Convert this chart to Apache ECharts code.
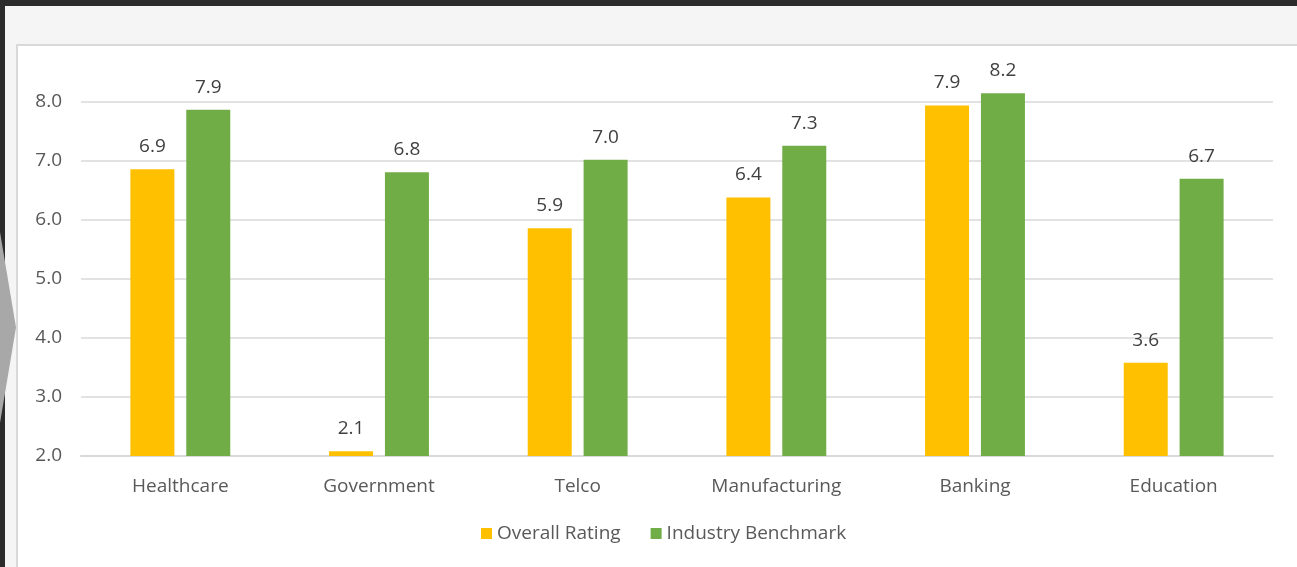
<!DOCTYPE html>
<html>
<head>
<meta charset="utf-8">
<script src="https://cdn.jsdelivr.net/npm/echarts@6/dist/echarts.min.js"></script>
<style>
html,body{margin:0;padding:0;background:#2b2b2b;width:1297px;height:567px;overflow:hidden;}
#panel{position:absolute;left:5px;top:6px;width:1292px;height:561px;background:#f5f5f5;}
#card{position:absolute;left:16px;top:44px;width:1300px;height:600px;background:#fff;border:2px solid #d9d9d9;box-sizing:border-box;}
#arrow{position:absolute;left:0;top:232px;width:16px;height:191px;background:#a8a8a8;clip-path:polygon(0 0,100% 50%,0 100%);}
#chart{position:absolute;left:0;top:0;width:1297px;height:567px;}
</style>
</head>
<body>
<div id="panel"></div>
<div id="card"></div>
<div id="arrow"></div>
<div id="chart"></div>
<script>
const categories = ['Healthcare','Government','Telco','Manufacturing','Banking','Education'];
const overallRating = [6.86, 2.08, 5.86, 6.38, 7.94, 3.58];
const industryBenchmark = [7.87, 6.81, 7.02, 7.26, 8.15, 6.70];
const seriesNames = ['Overall Rating','Industry Benchmark'];

const chart = echarts.init(document.getElementById('chart'));
const font = '"Open Sans", "Noto Sans", sans-serif';
const fs = 19;
chart.setOption({
  animation:false,
  textStyle:{fontFamily:font},
  grid:{left:81,right:24,top:66.6,bottom:111,containLabel:false},
  legend:{
    data:seriesNames, left:476, top:519, itemWidth:11, itemHeight:11, itemGap:30,
    icon:'rect',
    textStyle:{fontFamily:font,fontSize:fs,color:'#595959'}
  },
  xAxis:{
    type:'category', data:categories,
    axisLine:{lineStyle:{color:'#d9d9d9',width:2}},
    axisTick:{show:false},
    axisLabel:{fontFamily:font,fontSize:fs,color:'#595959',margin:21}
  },
  yAxis:{
    type:'value', min:2, max:8.6, interval:1,
    axisLine:{show:false}, axisTick:{show:false},
    axisLabel:{fontFamily:font,fontSize:fs,color:'#595959',margin:19,showMaxLabel:false,
      formatter:v=>v.toFixed(1)},
    splitLine:{show:true,showMaxLine:false,lineStyle:{color:'#d9d9d9',width:1.5}}
  },
  series:[
    {name:seriesNames[0],type:'bar',data:overallRating,barWidth:44,barGap:'27%',
     itemStyle:{color:'#ffc000'},
     label:{show:true,position:'top',distance:13,fontFamily:font,fontSize:fs,color:'#404040',
       formatter:p=>p.value.toFixed(1)}},
    {name:seriesNames[1],type:'bar',data:industryBenchmark,barWidth:44,
     itemStyle:{color:'#70ad47'},
     label:{show:true,position:'top',distance:13,fontFamily:font,fontSize:fs,color:'#404040',
       formatter:p=>p.value.toFixed(1)}}
  ]
});
</script>
</body>
</html>
